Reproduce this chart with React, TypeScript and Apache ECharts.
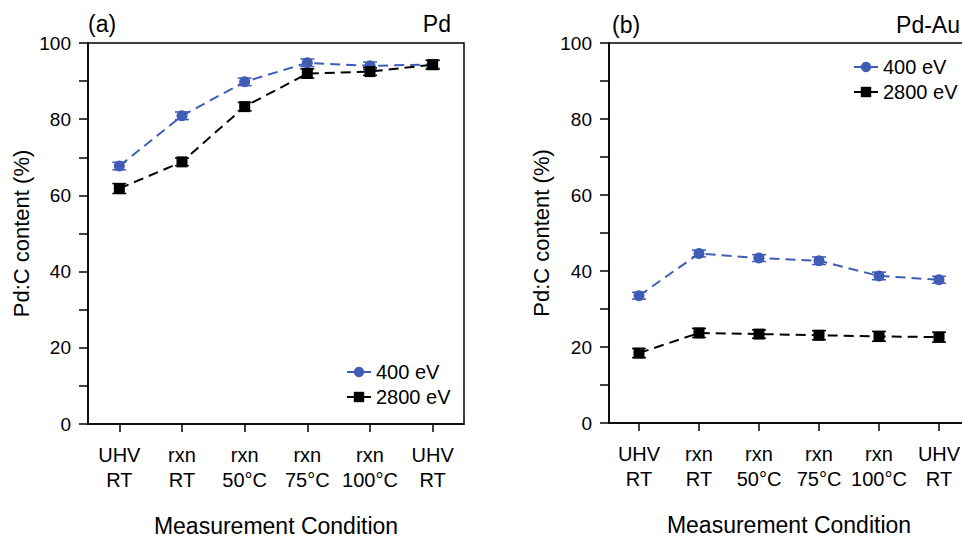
import React, { useEffect, useRef } from "react";
import * as echarts from "echarts";

const categories = ["UHV\nRT", "rxn\nRT", "rxn\n50°C", "rxn\n75°C", "rxn\n100°C", "UHV\nRT"];
const yTicks = [0, 20, 40, 60, 80, 100];

const pd400 = [67.7, 80.9, 89.8, 94.8, 94.0, 94.4];
const pd400Err = [1.0, 1.0, 1.0, 1.0, 1.0, 1.0];
const pd2800 = [61.8, 68.8, 83.3, 92.0, 92.5, 94.3];
const pd2800Err = [1.3, 1.0, 1.1, 1.2, 1.0, 1.2];

const pdau400 = [33.5, 44.6, 43.4, 42.7, 38.7, 37.7];
const pdau400Err = [0.9, 0.9, 0.9, 1.0, 1.0, 0.9];
const pdau2800 = [18.4, 23.7, 23.4, 23.1, 22.8, 22.6];
const pdau2800Err = [1.2, 1.2, 1.1, 1.2, 1.3, 1.3];

const FONT = "'Liberation Sans', Arial, sans-serif";
const BLUE = "#3f5db4";
const BLACK = "#000000";

function errData(vals: number[], errs: number[]) {
  return vals.map((v, i) => [i, v - errs[i], v + errs[i]]);
}

function errSeries(idx: number, vals: number[], errs: number[], color: string) {
  return {
    type: "custom",
    xAxisIndex: idx,
    yAxisIndex: idx,
    encode: { x: 0, y: [1, 2] },
    data: errData(vals, errs),
    silent: true,
    z: 1,
    renderItem: (params: any, api: any) => {
      const x = api.value(0);
      const lo = api.coord([x, api.value(1)]);
      const hi = api.coord([x, api.value(2)]);
      const hw = 7;
      const st = { stroke: color, lineWidth: 1.5 };
      return {
        type: "group",
        children: [
          { type: "line", shape: { x1: lo[0], y1: lo[1], x2: hi[0], y2: hi[1] }, style: st },
          { type: "line", shape: { x1: lo[0] - hw, y1: lo[1], x2: lo[0] + hw, y2: lo[1] }, style: st },
          { type: "line", shape: { x1: hi[0] - hw, y1: hi[1], x2: hi[0] + hw, y2: hi[1] }, style: st },
        ],
      };
    },
  };
}

function lineSeries(idx: number, name: string, vals: number[], color: string, symbol: string, size: number) {
  return {
    type: "line",
    name,
    xAxisIndex: idx,
    yAxisIndex: idx,
    data: vals,
    symbol,
    symbolSize: size,
    showAllSymbol: true,
    z: 3,
    itemStyle: { color, borderWidth: 0 },
    lineStyle: { color, width: 2, type: [10, 6] },
  };
}

function makeXAxis(idx: number) {
  return {
    type: "category",
    gridIndex: idx,
    data: categories,
    boundaryGap: true,
    axisLine: { show: true, lineStyle: { color: "#000", width: 1.5 } },
    axisTick: { show: true, alignWithLabel: true, length: 8, lineStyle: { color: "#000", width: 1.5 } },
    axisLabel: { color: "#000", fontSize: 20, lineHeight: 25, fontFamily: FONT, margin: 18, interval: 0 },
    name: "Measurement Condition",
    nameLocation: "middle",
    nameGap: 90,
    nameTextStyle: { color: "#000", fontSize: 23, lineHeight: 24, fontFamily: FONT },
    splitLine: { show: false },
  };
}

function makeYAxis(idx: number, gap: number) {
  return {
    type: "value",
    gridIndex: idx,
    min: 0,
    max: 100,
    interval: 10,
    axisLine: { show: true, lineStyle: { color: "#000", width: 1.5 } },
    axisTick: { show: true, length: 9, lineStyle: { color: "#000", width: 1.5 } },
    axisLabel: {
      color: "#000",
      fontSize: 19,
      fontFamily: FONT,
      margin: 17,
      formatter: (v: number) => (yTicks.indexOf(v) >= 0 ? String(v) : ""),
    },
    name: "Pd:C content (%)",
    nameLocation: "middle",
    nameGap: gap,
    nameRotate: 90,
    nameTextStyle: { color: "#000", fontSize: 22, fontFamily: FONT },
    splitLine: { show: false },
  };
}

function makeLegend(left: number, top: number) {
  return {
    left,
    top,
    orient: "vertical",
    data: ["400 eV", "2800 eV"],
    itemWidth: 24,
    itemHeight: 13,
    itemGap: 5,
    padding: 0,
    selectedMode: false,
    lineStyle: { type: "solid", width: 2 },
    textStyle: { color: "#000", fontSize: 20, fontFamily: FONT },
  };
}

export default function App() {
  const ref = useRef<HTMLDivElement>(null);
  useEffect(() => {
    if (!ref.current) return;
    const chart = echarts.init(ref.current, null, { renderer: "svg" });
    chart.setOption({
      animation: false,
      backgroundColor: "#fff",
      textStyle: { fontFamily: FONT },
      grid: [
        { left: 88, top: 43, width: 376, height: 381, show: true, borderColor: "#000", borderWidth: 1.5, containLabel: false, outerBoundsMode: "none" },
        { left: 609, top: 43, width: 360, height: 380, show: true, borderColor: "#000", borderWidth: 1.5, containLabel: false, outerBoundsMode: "none" },
      ],
      xAxis: [makeXAxis(0), makeXAxis(1)],
      yAxis: [makeYAxis(0, 56), makeYAxis(1, 57)],
      legend: [makeLegend(346, 362), makeLegend(853, 57)],
      graphic: [
        { type: "text", left: 88, top: 12, style: { text: "(a)", fontSize: 23, fontFamily: FONT, fill: "#000" } },
        { type: "text", right: 511, top: 12, style: { text: "Pd", fontSize: 23, fontFamily: FONT, fill: "#000" } },
        { type: "text", left: 612, top: 13, style: { text: "(b)", fontSize: 23, fontFamily: FONT, fill: "#000" } },
        { type: "text", right: 2, top: 13, style: { text: "Pd-Au", fontSize: 23, fontFamily: FONT, fill: "#000" } },
      ],
      series: [
        errSeries(0, pd400, pd400Err, BLUE),
        errSeries(0, pd2800, pd2800Err, BLACK),
        lineSeries(0, "400 eV", pd400, BLUE, "circle", 11),
        lineSeries(0, "2800 eV", pd2800, BLACK, "rect", 11),
        errSeries(1, pdau400, pdau400Err, BLUE),
        errSeries(1, pdau2800, pdau2800Err, BLACK),
        lineSeries(1, "400 eV", pdau400, BLUE, "circle", 11),
        lineSeries(1, "2800 eV", pdau2800, BLACK, "rect", 11),
      ],
    });
    return () => chart.dispose();
  }, []);
  return (
    <div style={{ position: "fixed", left: 0, top: 0, width: 962, height: 540, overflow: "hidden" }}>
      <div ref={ref} style={{ width: 962, height: 540 }} />
    </div>
  );
}
